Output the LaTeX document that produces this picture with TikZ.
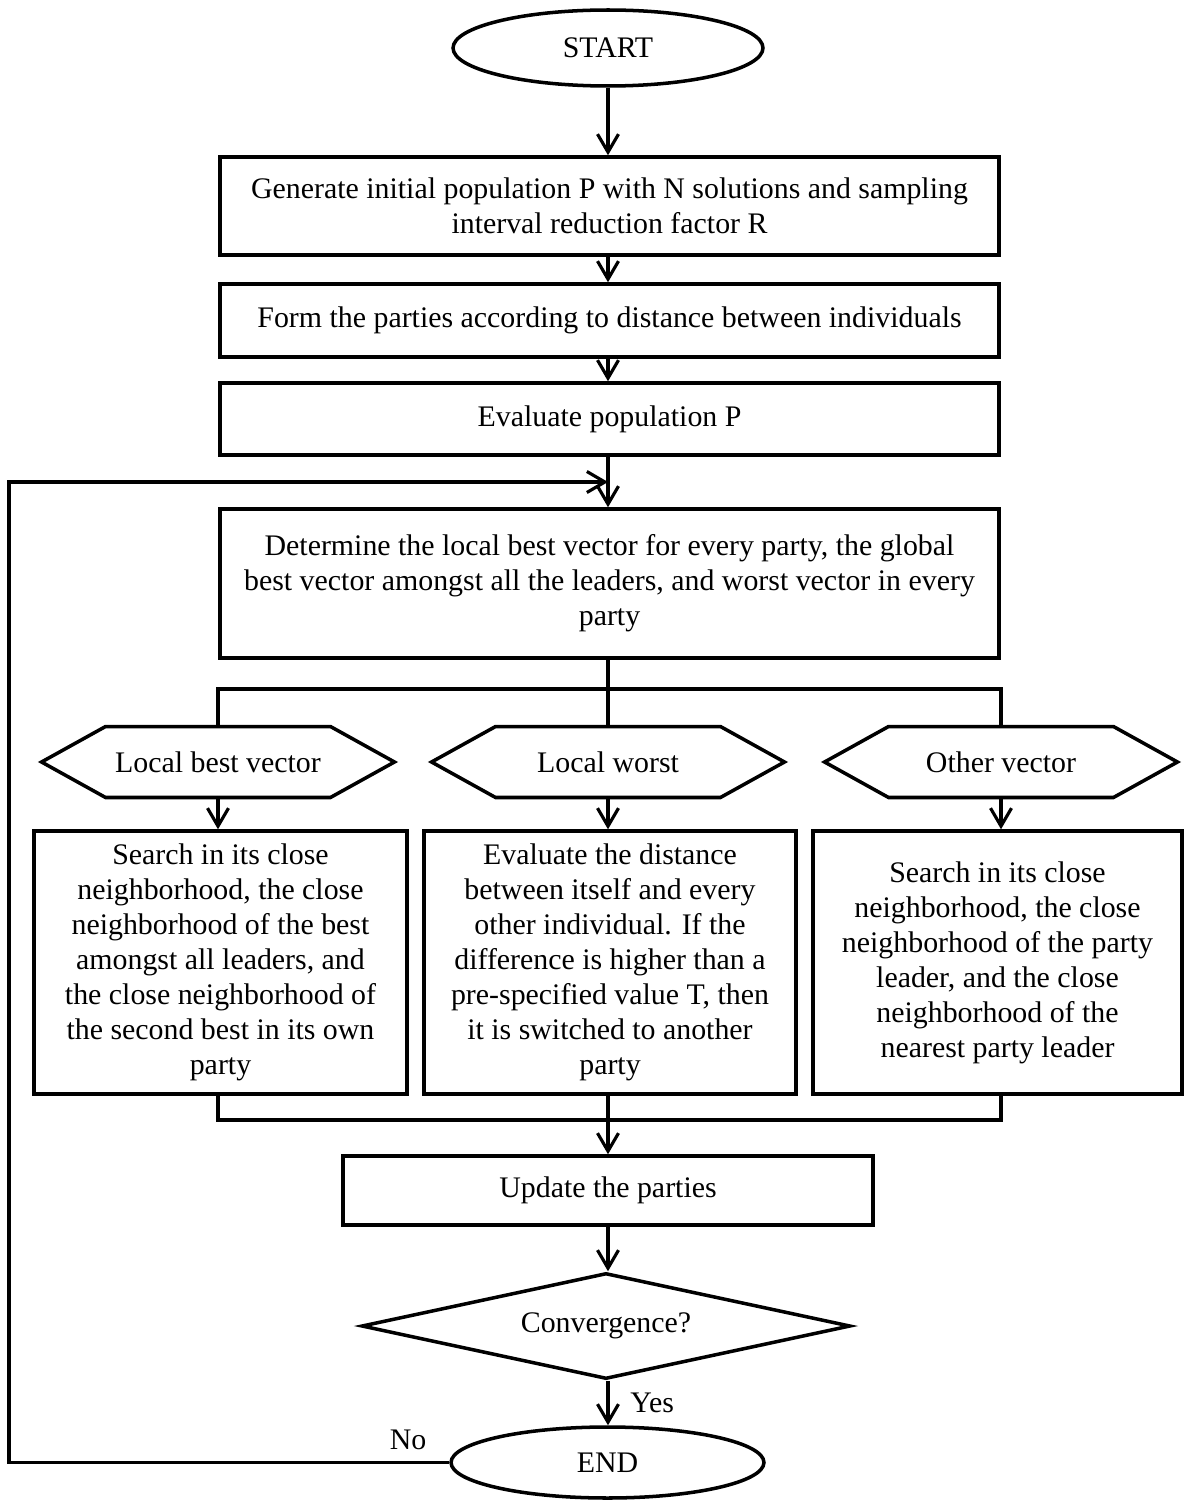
\documentclass[tikz,border=0pt]{standalone}
\usepackage{fontspec}
\setmainfont{Liberation Serif}
\usetikzlibrary{positioning, shapes.geometric, shapes.symbols, arrows.meta}

\tikzset{
    proc/.style = {draw, rectangle, line width=2pt, inner sep=0pt, align=center},
    term/.style = {draw, ellipse, line width=2pt, inner sep=0pt},
    choice/.style = {draw, signal, signal to=west and east, signal pointer angle=58,
        line width=2pt, inner sep=0pt, minimum width=7.06cm, minimum height=1.42cm},
    test/.style = {draw, diamond, aspect=4.6, line width=2pt, inner sep=0pt,
        minimum width=9.78cm, minimum height=2.12cm},
    flow/.style = {-{Straight Barb[length=0.36cm, width=0.42cm]}}
}

\begin{document}
\begin{tikzpicture}[x=0.02cm, y=-0.02cm, line width=1.8pt, font=\fontsize{17}{19.9}\selectfont]
    \useasboundingbox (0,0) rectangle (1184,1500);
    \node[term, minimum width=6.2cm, minimum height=1.52cm] (start) at (608,48) {START};
    \node[proc, minimum width=15.58cm, minimum height=1.96cm] (init) at (609.5,206)
        {Generate initial population P with N solutions and sampling\\interval reduction factor R};
    \node[proc, minimum width=15.58cm, minimum height=1.46cm] (form) at (609.5,320.5)
        {Form the parties according to distance between individuals};
    \node[proc, minimum width=15.58cm, minimum height=1.44cm] (eval) at (609.5,419)
        {Evaluate population P};
    \node[proc, minimum width=15.58cm, minimum height=2.98cm] (det) at (609.5,583.5)
        {Determine the local best vector for every party, the global\\best vector amongst all the leaders, and worst vector in every\\party};
    \node[choice] (lbv) at (218,762) {Local best vector};
    \node[choice] (lw) at (608,762) {Local worst};
    \node[choice] (ov) at (1001,762) {Other vector};
    \node[proc, minimum width=7.46cm, minimum height=5.26cm] (srch1) at (220.5,962.5)
        {Search in its close\\neighborhood, the close\\neighborhood of the best\\amongst all leaders, and\\the close neighborhood of\\the second best in its own\\party};
    \node[proc, minimum width=7.44cm, minimum height=5.26cm] (srch2) at (610,962.5)
        {Evaluate the distance\\between itself and every\\other individual. If the\\difference is higher than a\\pre-specified value T, then\\it is switched to another\\party};
    \node[proc, minimum width=7.38cm, minimum height=5.26cm] (srch3) at (997.5,962.5)
        {Search in its close\\neighborhood, the close\\neighborhood of the party\\leader, and the close\\neighborhood of the\\nearest party leader};
    \node[proc, minimum width=10.6cm, minimum height=1.38cm] (upd) at (608,1190.5)
        {Update the parties};
    \node[test] (conv) at (606,1326) {Convergence?};
    \node[term, minimum width=6.26cm, minimum height=1.42cm] (stop) at (607.5,1462.5) {END};
    \node (no) at (408,1440) {No};

    \coordinate (bus1) at (608,689);
    \coordinate (bus2) at (608,1120);
    \coordinate (back) at (9,482);

    \draw[flow] (start) -- (start |- init.north);
    \draw[flow] (start |- init.south) -- (start |- form.north);
    \draw[flow] (start |- form.south) -- (start |- eval.north);
    \draw[flow] (start |- eval.south) -- (start |- det.north);
    \draw[flow] (stop.west) -| (back) -- (start |- back);
    \draw (lbv.north) |- (bus1) -| (ov.north);
    \draw (start |- det.south) -- (lw.north);
    \foreach \c/\b in {lbv/srch1, lw/srch2, ov/srch3}
    {
    \draw[flow] (\c.south) -- (\c.south |- \b.north);
    }
    \draw (lbv.south |- srch1.south) |- (bus2) -| (ov.south |- srch3.south);
    \draw[flow] (upd.north |- srch2.south) -- (upd.north);
    \draw[flow] (upd.south) -- (upd.south |- conv.north);
    \draw[flow] (upd.south |- conv.south) -- (upd.south |- stop.north)
        node[midway, right=0.3cm] (yes) {Yes};
\end{tikzpicture}
\end{document}
